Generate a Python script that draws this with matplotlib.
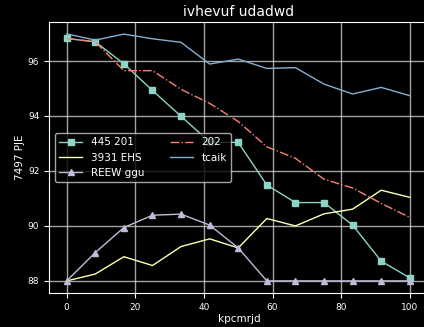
import matplotlib
matplotlib.use("Agg")
import matplotlib.pyplot as plt

plt.style.use("dark_background")

x = [0, 8.33, 16.67, 25, 33.33, 41.67, 50, 58.33, 66.67, 75, 83.33, 91.67, 100]
s_445 = [96.82, 96.7, 95.9, 94.93, 93.99, 93.05, 93.04, 91.49, 90.85, 90.85, 90.03, 88.72, 88.11]
s_3931 = [88.0, 88.25, 88.88, 88.56, 89.25, 89.53, 89.2, 90.27, 90.0, 90.44, 90.61, 91.3, 91.04]
s_reew = [88.0, 89.03, 89.94, 90.39, 90.43, 90.03, 89.2, 88.0, 88.0, 88.0, 88.0, 88.0, 88.0]
s_202 = [96.82, 96.7, 95.65, 95.65, 94.97, 94.46, 93.8, 92.88, 92.46, 91.7, 91.38, 90.82, 90.31]
s_tcaik = [96.99, 96.76, 96.98, 96.81, 96.68, 95.89, 96.07, 95.73, 95.76, 95.16, 94.8, 95.04, 94.74]

fig = plt.figure(figsize=(4.24, 3.27), dpi=100)
# axes runs slightly past the right edge of the figure, as in the reference
ax = fig.add_axes([49 / 424, 34 / 327, 380 / 424, 271 / 327])

ax.plot(x, s_445, color="#8dd3c7", marker="s", markersize=4.5, lw=1, label="445 201")
ax.plot(x, s_3931, color="#feffb3", lw=1, label="3931 EHS")
ax.plot(x, s_reew, color="#bfbbd9", marker="^", markersize=4.5, lw=1, label="REEW ggu")
ax.plot(x, s_202, color="#fa8174", ls="-.", lw=1, label="202")
ax.plot(x, s_tcaik, color="#81b1d2", lw=1, label="tcaik")

ax.set_xlim(-5.15, 105.6)
ax.set_ylim(87.56, 97.42)
ax.set_xticks([0, 20, 40, 60, 80, 100])
ax.set_yticks([88, 90, 92, 94, 96])
ax.tick_params(labelsize=6.5)
ax.grid(True, color="#cccccc", lw=1, alpha=0.8)
ax.spines["right"].set_visible(False)

ax.set_title("ivhevuf udadwd", fontsize=10, pad=4)
ax.set_xlabel("kpcmrjd", fontsize=7.5, labelpad=2)
ax.set_ylabel("7497 PJE", fontsize=7.5, labelpad=2)
ax.legend(loc="center left", ncol=2, fontsize=7.5, framealpha=0.8,
          borderaxespad=0.6, columnspacing=2.5, handlelength=2.2)

fig.savefig("out.png", dpi=100)
